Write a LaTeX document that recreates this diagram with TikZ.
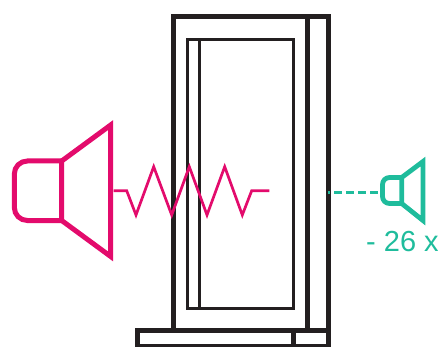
\documentclass[tikz,border=0pt]{standalone}
\usepackage{fontspec}
\setmainfont{Liberation Sans}
\definecolor{wallc}{HTML}{231F20}
\definecolor{loudc}{HTML}{E30B6C}
\definecolor{quietc}{HTML}{1FBC9C}

\begin{document}
\begin{tikzpicture}[
  x=1pt, y=-1pt,
  wall/.style={draw=wallc, line width=5.3pt},
  pane/.style={draw=wallc, line width=3pt},
  loud/.style={draw=loudc, line width=5pt, miter limit=20},
  quiet/.style={draw=quietc, line width=4.8pt, miter limit=20},
  level/.style={font=\fontsize{29}{30}\selectfont, text=quietc, inner sep=0pt, anchor=base},
]
\useasboundingbox (0, 0) rectangle (438, 347);

% door and frame
\draw[wall] (173.5, 329) -- (173.5, 16.5) -- (328.5, 16.5) -- (328.5, 347);
\draw[wall] (307.5, 16.5) -- (307.5, 331);
\draw[pane] (187.5, 39.2) rectangle (293, 308.6);
\draw[pane] (199.5, 39.2) -- (199.5, 308.6);

% threshold
\draw[wall] (135, 330.8) -- (328.5, 330.8);
\draw[wall] (137.5, 328.3) -- (137.5, 347);
\draw[wall] (293.2, 330.8) -- (293.2, 347);
\draw[wall, line width=2.5pt] (135, 345.7) -- (331, 345.7);

% loud source
\draw[loud, rounded corners=13pt] (61.7, 161) -- (14.3, 161) -- (14.3, 220.5) -- (61.7, 220.5);
\draw[loud] (61.7, 161) -- (110.7, 125) -- (110.7, 256.5) -- (61.7, 220.5) -- cycle;

% wave through the door
\coordinate (wave1) at (113.7, 190.7);
\coordinate (wave2) at (269.3, 190.7);
\draw[draw=loudc, line width=2.7pt] (wave1) -- (126.7, 190.7) -- (136, 215) -- (153.7, 166.7)
  -- (171.7, 215) -- (189.3, 166.7) -- (207, 215) -- (224.7, 166.7) -- (242.3, 215)
  -- (251.7, 190.7) -- (wave2);

% quiet source
\draw[quiet, rounded corners=7pt] (401.7, 177.5) -- (382.5, 177.5) -- (382.5, 203.5) -- (401.7, 203.5);
\draw[quiet] (401.7, 177.5) -- (423, 161.5) -- (423, 220.5) -- (401.7, 203.5) -- cycle;

\coordinate (leak1) at (328, 192.3);
\coordinate (leak2) at (380, 192.3);
\draw[draw=quietc, line width=2.8pt, dash pattern=on 7.5pt off 4.5pt, dash phase=5.8pt] (leak1) -- (leak2);

\node[level] (levellabel) at (402.5, 251.7) {- 26 x};
\end{tikzpicture}
\end{document}
